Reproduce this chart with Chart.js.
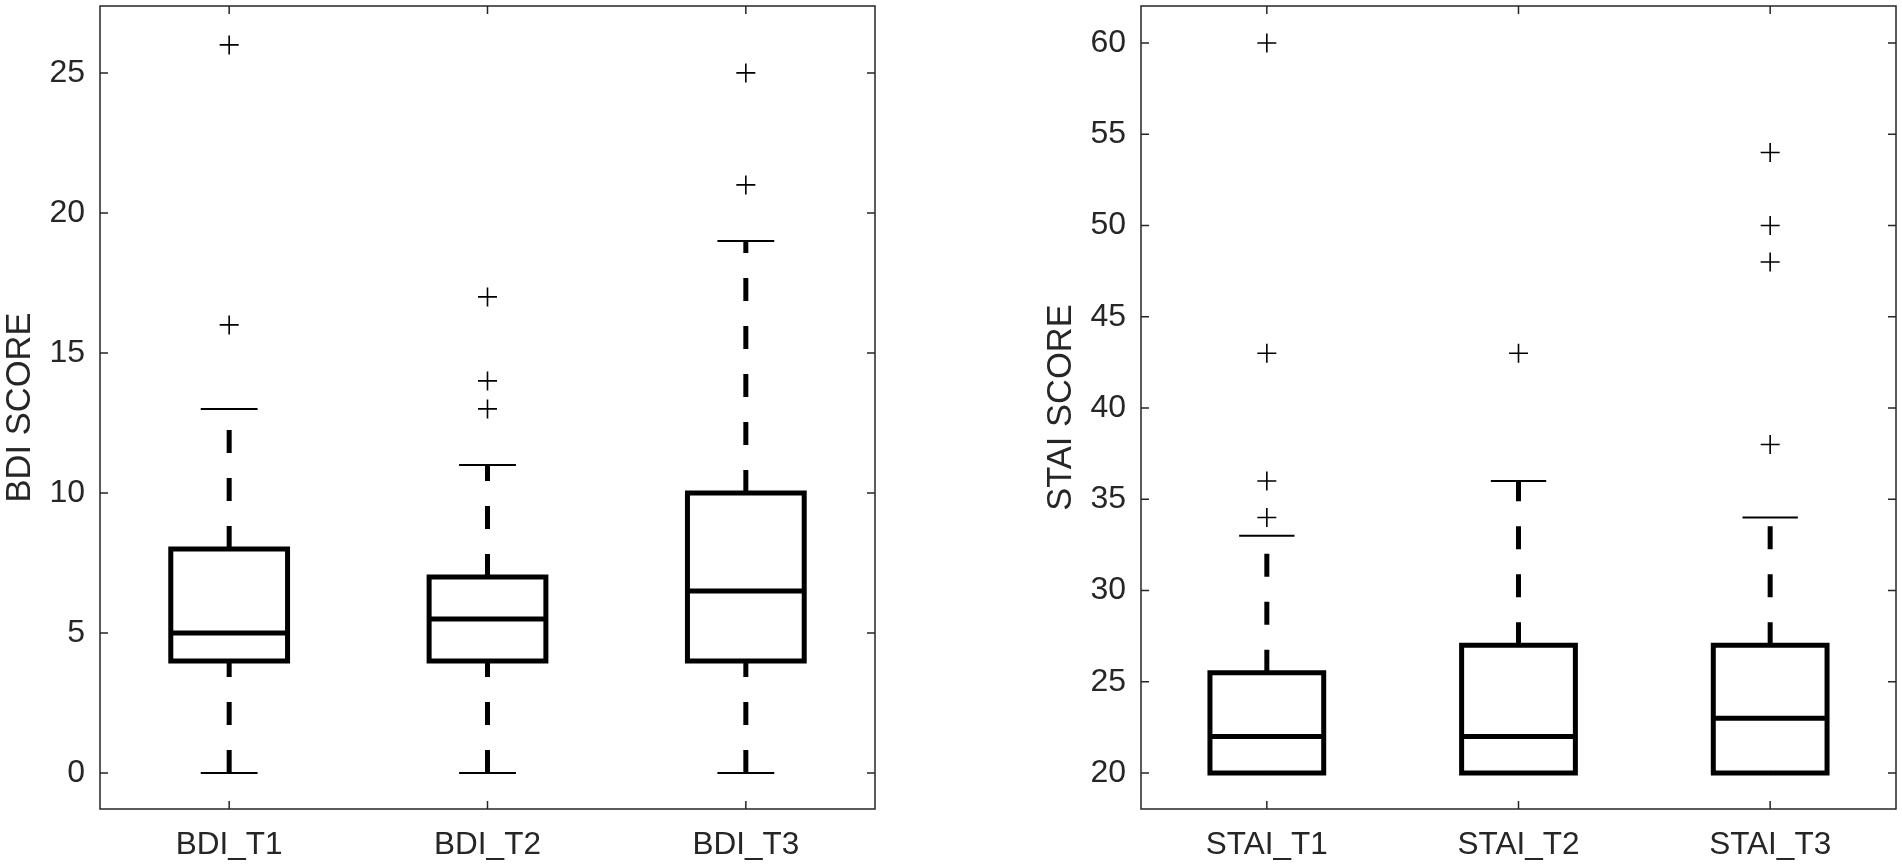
<!DOCTYPE html>
<html>
<head>
<meta charset="utf-8">
<title>BDI / STAI box plots</title>
<script src="https://cdn.jsdelivr.net/npm/chart.js@4.4.1/dist/chart.umd.min.js"></script>
<style>
  html, body { margin: 0; padding: 0; background: #fff; overflow: hidden; }
  .panel { position: absolute; top: 0; width: 951px; height: 868px; }
  #leftPanel { left: 0; }
  #rightPanel { left: 951px; }
</style>
</head>
<body>
<div class="panel" id="leftPanel"><canvas id="bdiChart"></canvas></div>
<div class="panel" id="rightPanel"><canvas id="staiChart"></canvas></div>
<script>
// ---- BDI data ----
const bdiLabels = ['BDI_T1', 'BDI_T2', 'BDI_T3'];
const bdiQ1 = [4, 4, 4];
const bdiMedian = [5, 5.5, 6.5];
const bdiQ3 = [8, 7, 10];
const bdiLowWhisker = [0, 0, 0];
const bdiHighWhisker = [13, 11, 19];
const bdiOutliers = [[16, 26], [13, 14, 17], [21, 25]];
const bdiTicks = [0, 5, 10, 15, 20, 25];

// ---- STAI data ----
const staiLabels = ['STAI_T1', 'STAI_T2', 'STAI_T3'];
const staiQ1 = [20, 20, 20];
const staiMedian = [22, 22, 23];
const staiQ3 = [25.5, 27, 27];
const staiLowWhisker = [20, 20, 20];
const staiHighWhisker = [33, 36, 34];
const staiOutliers = [[34, 36, 43, 60], [43], [38, 48, 50, 54]];
const staiTicks = [20, 25, 30, 35, 40, 45, 50, 55, 60];

// styling
const FONT = '"Liberation Sans", Arial, Helvetica, sans-serif';
const AXIS_COLOR = '#262626';
const BOX_HALF = 0.226;   // half box width, in category units
const CAP_HALF = 0.11;    // half whisker cap width
const TICK_LEN = 8;

function buildDatasets(q1, med, q3, lo, hi, outliers) {
    const sets = [];
    const line = { showLine: true, pointRadius: 0, fill: false, borderColor: '#000', tension: 0 };

    q1.forEach(function(_, i) {
        const x = i + 1;

        // whiskers (drawn upward, like MATLAB)
        sets.push(Object.assign({}, line, {
            data: [{ x: x, y: q3[i] }, { x: x, y: hi[i] }],
            borderWidth: 5, borderDash: [23, 25], borderCapStyle: 'butt'
        }));
        sets.push(Object.assign({}, line, {
            data: [{ x: x, y: lo[i] }, { x: x, y: q1[i] }],
            borderWidth: 5, borderDash: [23, 25], borderCapStyle: 'butt'
        }));

        // whisker caps
        sets.push(Object.assign({}, line, {
            data: [{ x: x - CAP_HALF, y: hi[i] }, { x: x + CAP_HALF, y: hi[i] }],
            borderWidth: 2
        }));
        sets.push(Object.assign({}, line, {
            data: [{ x: x - CAP_HALF, y: lo[i] }, { x: x + CAP_HALF, y: lo[i] }],
            borderWidth: 2
        }));

        // box
        sets.push(Object.assign({}, line, {
            data: [
                { x: x - BOX_HALF, y: q1[i] }, { x: x + BOX_HALF, y: q1[i] },
                { x: x + BOX_HALF, y: q3[i] }, { x: x - BOX_HALF, y: q3[i] },
                { x: x - BOX_HALF, y: q1[i] }
            ],
            borderWidth: 5, borderJoinStyle: 'miter', borderCapStyle: 'square'
        }));

        // median
        sets.push(Object.assign({}, line, {
            data: [{ x: x - BOX_HALF, y: med[i] }, { x: x + BOX_HALF, y: med[i] }],
            borderWidth: 5
        }));

        // outliers
        sets.push({
            showLine: false,
            data: outliers[i].map(function(v) { return { x: x, y: v }; }),
            pointStyle: 'cross',
            pointRadius: 9.5,
            pointBorderWidth: 1.6,
            pointBorderColor: '#000',
            pointBackgroundColor: '#000',
            borderColor: '#000'
        });
    });
    return sets;
}

// box frame and inward tick marks on all four sides
const frameTicks = {
    id: 'frameTicks',
    afterDraw(chart) {
        const ctx = chart.ctx;
        const a = chart.chartArea;
        const xs = chart.scales.x;
        const ys = chart.scales.y;
        ctx.save();
        ctx.strokeStyle = AXIS_COLOR;
        ctx.lineWidth = 1.5;
        ctx.strokeRect(a.left, a.top, a.right - a.left, a.bottom - a.top);
        ctx.beginPath();
        xs.ticks.forEach(function(t) {
            const px = xs.getPixelForValue(t.value);
            ctx.moveTo(px, a.bottom); ctx.lineTo(px, a.bottom - TICK_LEN);
            ctx.moveTo(px, a.top); ctx.lineTo(px, a.top + TICK_LEN);
        });
        ys.ticks.forEach(function(t) {
            const py = ys.getPixelForValue(t.value);
            ctx.moveTo(a.left, py); ctx.lineTo(a.left + TICK_LEN, py);
            ctx.moveTo(a.right, py); ctx.lineTo(a.right - TICK_LEN, py);
        });
        ctx.stroke();
        ctx.restore();
    }
};

function makeChart(canvasId, cfg) {
    return new Chart(document.getElementById(canvasId), {
        type: 'line',
        data: {
            datasets: buildDatasets(cfg.q1, cfg.med, cfg.q3, cfg.lo, cfg.hi, cfg.outliers)
        },
        options: {
            responsive: true,
            maintainAspectRatio: false,
            animation: false,
            layout: { padding: cfg.padding, autoPadding: false },
            plugins: { legend: { display: false }, tooltip: { enabled: false } },
            scales: {
                x: {
                    type: 'linear',
                    min: 0.5,
                    max: 3.5,
                    afterBuildTicks: function(scale) {
                        scale.ticks = cfg.labels.map(function(_, i) { return { value: i + 1 }; });
                    },
                    afterFit: function(scale) {
                        scale.height = 59;
                        scale.paddingLeft = 0;
                        scale.paddingRight = 0;
                    },
                    grid: { display: false, drawTicks: false },
                    border: { display: false },
                    ticks: {
                        callback: function(value, index) { return cfg.labels[index]; },
                        font: { family: FONT, size: 31.5 },
                        color: AXIS_COLOR,
                        padding: 17,
                        maxRotation: 0
                    }
                },
                y: {
                    type: 'linear',
                    min: cfg.yMin,
                    max: cfg.yMax,
                    afterBuildTicks: function(scale) {
                        scale.ticks = cfg.ticks.map(function(v) { return { value: v }; });
                    },
                    afterFit: function(scale) {
                        scale.width = 100;
                        scale.paddingTop = 0;
                        scale.paddingBottom = 0;
                    },
                    grid: { display: false, drawTicks: false },
                    border: { display: false },
                    ticks: {
                        font: { family: FONT, size: 32 },
                        color: AXIS_COLOR,
                        padding: 15
                    },
                    title: {
                        display: true,
                        text: cfg.yTitle,
                        font: { family: FONT, size: 34.5 },
                        color: AXIS_COLOR,
                        padding: { top: 0, bottom: 0 }
                    }
                }
            }
        },
        plugins: [frameTicks]
    });
}

makeChart('bdiChart', {
    labels: bdiLabels, q1: bdiQ1, med: bdiMedian, q3: bdiQ3,
    lo: bdiLowWhisker, hi: bdiHighWhisker, outliers: bdiOutliers,
    ticks: bdiTicks, yMin: -1.29, yMax: 27.39, yTitle: 'BDI SCORE',
    padding: { left: 0, right: 76, top: 6, bottom: 0 }
});

makeChart('staiChart', {
    labels: staiLabels, q1: staiQ1, med: staiMedian, q3: staiQ3,
    lo: staiLowWhisker, hi: staiHighWhisker, outliers: staiOutliers,
    ticks: staiTicks, yMin: 18.03, yMax: 62.03, yTitle: 'STAI SCORE',
    padding: { left: 90, right: 6, top: 6, bottom: 0 }
});
</script>
</body>
</html>
